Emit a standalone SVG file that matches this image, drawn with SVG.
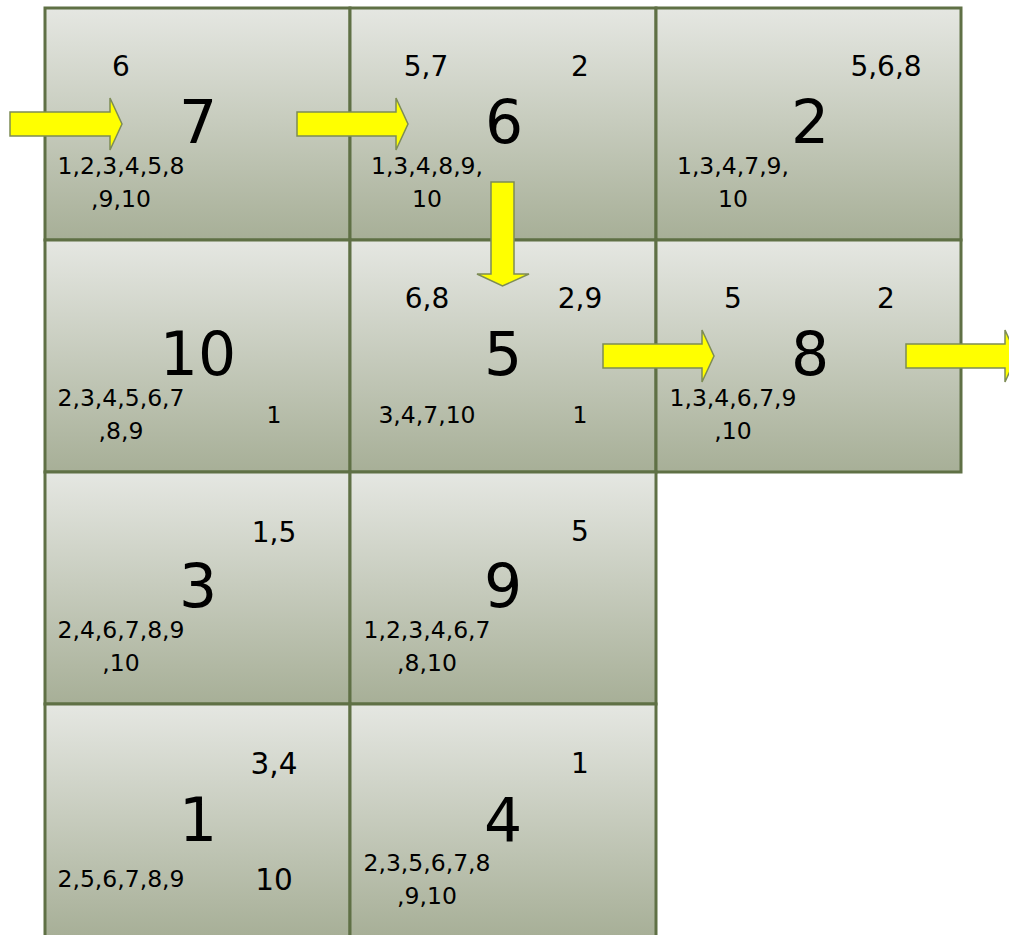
<svg xmlns="http://www.w3.org/2000/svg" width="1009" height="935" viewBox="0 0 1009 935">
<defs>
<linearGradient id="g" x1="0" y1="0" x2="0" y2="1">
<stop offset="0" stop-color="#e5e7e2"/>
<stop offset="1" stop-color="#a7af97"/>
</linearGradient>
<style>
.c{fill:url(#g);stroke:#5f7045;stroke-width:3}
text{font-family:"DejaVu Sans","Liberation Sans",sans-serif;fill:#000;text-anchor:middle}
.b{font-size:60px}
.s{font-size:23.5px}
.t{font-size:28px}
.u{font-size:29.5px}
.a{fill:#ffff00;stroke:#7d8c55;stroke-width:1.5}
</style>
</defs>
<rect width="1009" height="935" fill="#fff"/>
<g id="cell7"><rect class="c" x="45" y="8" width="305" height="232"/>
<text class="t" x="121" y="76">6</text><text class="b" x="198" y="143">7</text>
<text class="s" x="121" y="174">1,2,3,4,5,8</text><text class="s" x="121" y="207">,9,10</text></g>
<g id="cell6"><rect class="c" x="350" y="8" width="306" height="232"/>
<text class="t" x="426" y="76">5,7</text><text class="t" x="580" y="76">2</text><text class="b" x="504" y="143">6</text>
<text class="s" x="427" y="174">1,3,4,8,9,</text><text class="s" x="427" y="207">10</text></g>
<g id="cell2"><rect class="c" x="656" y="8" width="305" height="232"/>
<text class="t" x="886" y="76">5,6,8</text><text class="b" x="810" y="143">2</text>
<text class="s" x="733" y="174">1,3,4,7,9,</text><text class="s" x="733" y="207">10</text></g>
<g id="cell10"><rect class="c" x="45" y="240" width="305" height="232"/>
<text class="b" x="198" y="375">10</text><text class="s" x="121" y="406">2,3,4,5,6,7</text><text class="s" x="121" y="439">,8,9</text>
<text class="s" x="274" y="423">1</text></g>
<g id="cell5"><rect class="c" x="350" y="240" width="306" height="232"/>
<text class="t" x="427" y="308">6,8</text><text class="t" x="580" y="308">2,9</text><text class="b" x="503" y="375">5</text>
<text class="s" x="427" y="423">3,4,7,10</text><text class="s" x="580" y="423">1</text></g>
<g id="cell8"><rect class="c" x="656" y="240" width="305" height="232"/>
<text class="t" x="733" y="308">5</text><text class="t" x="886" y="308">2</text><text class="b" x="810" y="375">8</text>
<text class="s" x="733" y="406">1,3,4,6,7,9</text><text class="s" x="733" y="439">,10</text></g>
<g id="cell3"><rect class="c" x="45" y="472" width="305" height="232"/>
<text class="t" x="274" y="542">1,5</text><text class="b" x="198" y="607">3</text>
<text class="s" x="121" y="638">2,4,6,7,8,9</text><text class="s" x="121" y="671">,10</text></g>
<g id="cell9"><rect class="c" x="350" y="472" width="306" height="232"/>
<text class="t" x="580" y="541">5</text><text class="b" x="503" y="607">9</text>
<text class="s" x="427" y="638">1,2,3,4,6,7</text><text class="s" x="427" y="671">,8,10</text></g>
<g id="cell1"><rect class="c" x="45" y="704" width="305" height="233"/>
<text class="u" x="274" y="774">3,4</text><text class="b" x="198" y="841">1</text>
<text class="s" x="121" y="887">2,5,6,7,8,9</text><text class="u" x="274" y="890">10</text></g>
<g id="cell4"><rect class="c" x="350" y="704" width="306" height="233"/>
<text class="t" x="580" y="773">1</text><text class="b" x="503" y="841">4</text>
<text class="s" x="427" y="871">2,3,5,6,7,8</text><text class="s" x="427" y="904">,9,10</text></g>
<g id="connectors">
<polygon class="a" points="10,112 110,112 110,98 122,124 110,150 110,136 10,136"/>
<polygon class="a" points="297,112 396,112 396,98 408,124 396,150 396,136 297,136"/>
<polygon class="a" points="491,182 514,182 514,274 529,274 502.5,286 477,274 491,274"/>
<polygon class="a" points="603,344 702,344 702,330 714,356 702,382 702,368 603,368"/>
<polygon class="a" points="906,344 1005,344 1005,330 1017,356 1005,382 1005,368 906,368"/>
</g>
</svg>
